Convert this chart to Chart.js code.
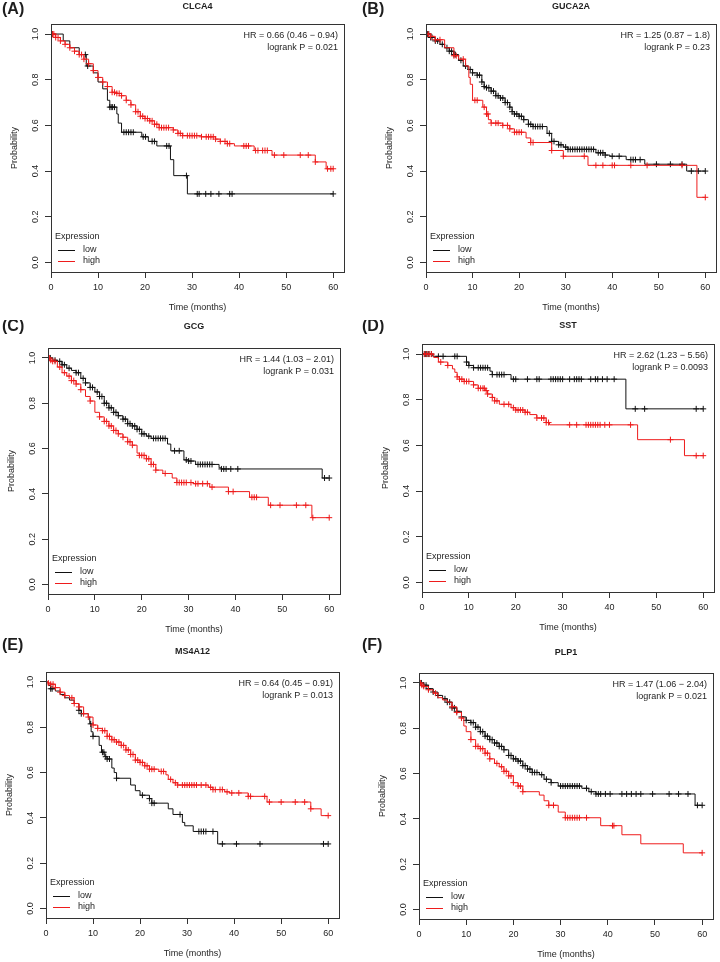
<!DOCTYPE html>
<html>
<head>
<meta charset="utf-8">
<script src="https://cdn.jsdelivr.net/npm/chart.js@4.4.1/dist/chart.umd.min.js"></script>
<style>
  html, body { margin: 0; padding: 0; background: #fff; overflow: hidden; }
  body { width: 720px; height: 962px; position: relative; }
  canvas { position: absolute; }
</style>
</head>
<body>
<script>
// ---- labels / ticks ----
const panelTags = ['(A)', '(B)', '(C)', '(D)', '(E)', '(F)'];
const geneNames = ['CLCA4', 'GUCA2A', 'GCG', 'SST', 'MS4A12', 'PLP1'];
const hrLabels = [
    'HR = 0.66 (0.46 \u2212 0.94)', 'HR = 1.25 (0.87 \u2212 1.8)', 'HR = 1.44 (1.03 \u2212 2.01)',
    'HR = 2.62 (1.23 \u2212 5.56)', 'HR = 0.64 (0.45 \u2212 0.91)', 'HR = 1.47 (1.06 \u2212 2.04)'
];
const pLabels = [
    'logrank P = 0.021', 'logrank P = 0.23', 'logrank P = 0.031',
    'logrank P = 0.0093', 'logrank P = 0.013', 'logrank P = 0.021'
];
const groupNames = ['low', 'high'];
const xTicks = [0, 10, 20, 30, 40, 50, 60];
const yTicks = [0, 0.2, 0.4, 0.6, 0.8, 1.0];

// ---- CLCA4 ----
const clca4LowTime = [0, 2.6, 4, 6, 7.5, 9, 10, 11, 12, 12.5, 14, 14.3, 15, 19.3, 20.7, 22.5, 25.4, 26.1, 29];
const clca4LowSurv = [1, 0.97, 0.94, 0.91, 0.86, 0.83, 0.79, 0.76, 0.71, 0.68, 0.65, 0.61, 0.57, 0.55, 0.53, 0.51, 0.45, 0.38, 0.30];
const clca4LowCens = [0.3, 7.3, 7.8, 12.5, 12.8, 13.1, 13.5, 15.5, 16, 16.5, 17, 17.5, 19.6, 20.1, 21.5, 22, 24.6, 25.1, 28.8, 31.1, 31.5, 32.9, 34, 35.7, 38, 38.5, 60];
const clca4HighTime = [0, 1, 2, 3, 4, 5, 6, 7, 8, 9, 10, 11, 12, 13, 14, 15, 16, 17, 18, 19, 20, 21, 22, 23, 26, 27, 28, 32, 35, 36, 37.5, 39, 43.2, 47, 56.2, 58.5];
const clca4HighSurv = [1, 0.985, 0.97, 0.955, 0.94, 0.925, 0.91, 0.89, 0.87, 0.84, 0.81, 0.79, 0.77, 0.745, 0.74, 0.73, 0.71, 0.69, 0.66, 0.64, 0.63, 0.62, 0.605, 0.59, 0.58, 0.565, 0.555, 0.55, 0.54, 0.53, 0.52, 0.51, 0.49, 0.47, 0.44, 0.41];
const clca4HighCens = [0.3, 0.6, 1, 1.5, 2, 3, 4, 5, 6, 6.5, 7, 8, 9, 10, 11, 12, 13, 13.5, 14, 14.5, 15, 16, 17, 18, 18.5, 19, 19.5, 20, 20.5, 21, 21.5, 22, 22.5, 23, 23.5, 24, 24.5, 25, 26, 27, 27.5, 28, 29, 29.5, 30, 30.5, 31, 32, 33, 33.5, 34, 34.5, 35, 36, 37, 37.5, 38, 41, 41.5, 42, 43.5, 44, 45, 45.5, 46, 47.5, 49.5, 53, 54.7, 56.2, 58.8, 59.5, 60];

// ---- GUCA2A ----
const guca2aLowTime = [0, 1, 2, 3, 4, 5, 6, 7, 8, 9, 10, 11, 12, 12.5, 13, 14, 15, 16, 17, 18, 18.5, 19, 20, 21, 22, 23, 26, 27, 28.5, 29.5, 30.5, 36.5, 38.5, 39.5, 43, 47, 56];
const guca2aLowSurv = [1, 0.985, 0.97, 0.955, 0.94, 0.925, 0.91, 0.885, 0.86, 0.845, 0.83, 0.82, 0.79, 0.77, 0.765, 0.75, 0.73, 0.72, 0.70, 0.68, 0.66, 0.65, 0.64, 0.625, 0.605, 0.595, 0.565, 0.53, 0.515, 0.505, 0.495, 0.48, 0.47, 0.465, 0.45, 0.43, 0.40];
const guca2aLowCens = [0.3, 0.6, 1, 1.3, 2, 2.5, 3.5, 4.5, 5, 5.5, 6, 6.3, 7.5, 8.5, 9.5, 10, 11, 11.5, 12, 12.5, 13, 13.5, 14, 14.5, 15, 15.5, 16, 16.5, 17, 17.5, 18, 18.5, 19, 19.5, 20, 20.5, 21, 22, 22.5, 23, 23.5, 24, 24.5, 25, 26.5, 27, 27.5, 28.5, 29, 30, 30.5, 31, 31.5, 32, 32.5, 33, 33.5, 34, 34.5, 35, 35.5, 36, 37, 37.5, 38, 38.5, 40, 41.5, 44, 44.5, 45, 46, 49.5, 52.5, 55, 57, 58.5, 60];
const guca2aHighTime = [0, 1, 2, 4, 6, 7, 8.5, 9.2, 9.5, 10, 12.2, 13, 13.4, 14, 16.5, 18, 19, 21.5, 22.5, 27, 29.5, 34.8, 58.2];
const guca2aHighSurv = [1, 0.99, 0.975, 0.94, 0.905, 0.89, 0.86, 0.81, 0.78, 0.71, 0.68, 0.65, 0.625, 0.61, 0.60, 0.585, 0.57, 0.545, 0.525, 0.49, 0.465, 0.425, 0.285];
const guca2aHighCens = [0.5, 1, 2, 3, 6, 6.5, 8, 10.5, 11, 12.5, 13, 13.3, 14, 15, 15.5, 16.5, 17.5, 18, 19, 19.5, 20, 20.5, 22.5, 23, 27, 29.5, 34, 36.5, 38, 40, 40.5, 44, 47.5, 55, 60];

// ---- GCG ----
const gcgLowTime = [0, 1, 2, 3, 4, 5, 6, 7, 8, 9, 10, 11, 12, 13, 14, 15, 16, 17, 18, 19, 20, 21, 22, 25.5, 26.2, 29, 30, 31.5, 36.5, 37, 58.5];
const gcgLowSurv = [1, 0.99, 0.985, 0.97, 0.955, 0.945, 0.935, 0.91, 0.89, 0.87, 0.85, 0.83, 0.80, 0.78, 0.76, 0.745, 0.73, 0.71, 0.70, 0.685, 0.665, 0.655, 0.645, 0.62, 0.59, 0.55, 0.545, 0.53, 0.515, 0.51, 0.47];
const gcgLowCens = [0.5, 1.5, 2.5, 3, 3.5, 4.5, 6, 6.5, 7.5, 8, 9, 9.5, 10.5, 11, 11.5, 12, 12.5, 13, 13.5, 14, 14.5, 15, 16, 16.5, 17, 17.5, 18, 18.5, 19, 19.5, 20, 20.5, 21.5, 22.5, 23, 23.5, 24, 24.5, 25, 27, 28, 29.5, 30, 30.5, 32, 32.5, 33, 33.5, 34, 34.5, 35, 37, 37.5, 38, 39, 40.5, 59, 60];
const gcgHighTime = [0, 0.5, 1, 2, 3, 4, 5, 6, 7, 8, 9, 10, 11, 12, 13, 14, 15, 16, 17, 18, 19, 19.5, 21, 22, 23, 24.5, 26.5, 27.5, 31, 34.5, 38.5, 43, 47, 56.3];
const gcgHighSurv = [1, 0.99, 0.985, 0.96, 0.935, 0.92, 0.90, 0.885, 0.86, 0.83, 0.81, 0.76, 0.74, 0.72, 0.70, 0.68, 0.665, 0.65, 0.63, 0.615, 0.58, 0.57, 0.555, 0.53, 0.505, 0.49, 0.47, 0.45, 0.445, 0.43, 0.41, 0.385, 0.35, 0.295];
const gcgHighCens = [0.3, 0.6, 1, 1.5, 2.5, 3.5, 4.5, 5, 5.5, 6, 7, 9, 11, 12, 12.5, 13, 13.5, 14, 14.5, 15, 16, 17, 17.5, 18, 19.5, 20, 20.5, 21, 21.5, 22, 22.5, 23, 25, 27.5, 28, 28.5, 29, 29.5, 30.5, 31.5, 32, 33, 34, 35, 38.5, 39.5, 43.5, 44, 44.5, 47.5, 49.5, 53, 55, 56.5, 60];

// ---- SST ----
const sstLowTime = [0, 2.3, 9.5, 10, 11, 14.5, 15, 19, 43.5];
const sstLowSurv = [1, 0.99, 0.965, 0.95, 0.94, 0.925, 0.91, 0.89, 0.76];
const sstLowCens = [0.5, 0.8, 1, 1.3, 1.5, 2, 3.5, 4.5, 7, 7.5, 9.5, 10, 11, 12, 12.5, 13, 13.5, 14, 15, 16, 16.5, 17, 17.5, 19.5, 20, 22.5, 24.5, 25, 27.5, 28, 28.5, 29, 29.5, 30, 31.5, 32.5, 33, 33.5, 34, 36, 37, 37.5, 38.5, 39.5, 41, 45.5, 47.5, 58.5, 60];
const sstHighTime = [0, 2.5, 3.5, 5.5, 6.5, 7, 7.5, 8, 9, 11, 12, 13.5, 14, 15, 15.5, 16.5, 19, 20, 22, 23, 24.5, 26.5, 27.2, 46, 56];
const sstHighSurv = [1, 0.985, 0.965, 0.95, 0.935, 0.92, 0.90, 0.89, 0.88, 0.865, 0.85, 0.84, 0.825, 0.81, 0.795, 0.78, 0.765, 0.755, 0.745, 0.735, 0.72, 0.70, 0.69, 0.625, 0.555];
const sstHighCens = [0.5, 1, 1.5, 2, 4, 5.5, 7.5, 8, 8.5, 9, 9.5, 10, 11, 12, 12.5, 13, 13.3, 13.7, 14, 15, 15.5, 16, 17.5, 18.5, 19.5, 20, 20.5, 21, 21.5, 22, 22.5, 24.5, 25.5, 26, 26.5, 27, 31.5, 33, 35, 35.5, 36, 36.5, 37, 37.5, 38, 39, 40, 44.5, 53, 58.5, 60];

// ---- MS4A12 ----
const ms4a12LowTime = [0, 0.5, 1, 2, 3, 4, 5, 6, 7, 7.5, 9, 9.3, 9.6, 10, 11.3, 11.8, 12.5, 13, 14, 14.5, 15, 18, 19, 20, 22, 22.5, 26, 27, 29, 29.5, 31.3, 36.5];
const ms4a12LowSurv = [1, 0.985, 0.97, 0.96, 0.945, 0.93, 0.92, 0.905, 0.875, 0.86, 0.845, 0.815, 0.78, 0.76, 0.72, 0.69, 0.67, 0.66, 0.62, 0.60, 0.575, 0.545, 0.52, 0.50, 0.485, 0.465, 0.44, 0.415, 0.38, 0.365, 0.34, 0.285];
const ms4a12LowCens = [1, 1.3, 7, 7.5, 9.5, 10, 12, 12.3, 12.7, 13, 13.5, 15, 20.5, 22, 22.5, 23, 28.5, 32.5, 33, 33.5, 34, 35.5, 37.5, 40.5, 45.5, 59, 60];
const ms4a12HighTime = [0, 0.5, 1, 2, 3, 4, 5, 6, 7, 8, 9, 10, 11, 12, 13, 14, 15, 16, 17, 18, 19, 20, 21, 22, 24, 25.5, 26, 27, 28, 34.5, 35.5, 38, 39, 43, 47, 56.3, 58.5];
const ms4a12HighSurv = [1, 0.995, 0.99, 0.975, 0.955, 0.94, 0.93, 0.905, 0.89, 0.86, 0.845, 0.81, 0.795, 0.785, 0.76, 0.745, 0.735, 0.72, 0.70, 0.68, 0.655, 0.645, 0.63, 0.615, 0.605, 0.59, 0.57, 0.555, 0.545, 0.535, 0.525, 0.515, 0.51, 0.495, 0.47, 0.44, 0.41];
const ms4a12HighCens = [0.5, 1, 1.5, 2, 3, 4, 5.5, 6, 7, 8, 9, 10, 11, 12, 12.5, 13, 13.5, 14, 14.5, 15, 15.5, 16, 16.5, 17, 17.5, 18, 18.5, 19, 19.5, 20, 20.5, 21, 21.5, 22, 22.5, 23, 24.5, 25, 26.5, 27.5, 28, 29, 29.5, 30, 30.5, 31, 31.5, 32, 33, 34, 35, 35.5, 36, 37, 37.5, 38.5, 39.5, 41, 43, 43.5, 46.5, 47.5, 50, 53, 55, 56.3, 60];

// ---- PLP1 ----
const plp1LowTime = [0, 1, 2, 3, 4, 5, 6, 7, 8, 9, 10, 11, 12, 13, 14, 15, 16, 17, 18, 19, 20, 21, 22, 23, 24, 25.5, 26.5, 28, 29.5, 34.5, 36, 37.5, 58.5];
const plp1LowSurv = [1, 0.99, 0.975, 0.96, 0.945, 0.93, 0.915, 0.89, 0.875, 0.85, 0.835, 0.825, 0.805, 0.785, 0.765, 0.75, 0.735, 0.72, 0.705, 0.68, 0.665, 0.655, 0.635, 0.62, 0.605, 0.595, 0.575, 0.56, 0.545, 0.535, 0.52, 0.51, 0.46];
const plp1LowCens = [0.5, 1, 1.5, 2, 3, 4, 5.5, 6, 6.5, 7, 7.5, 8, 9, 10, 11, 11.5, 12, 12.5, 13, 13.5, 14, 14.5, 15, 15.5, 16, 16.5, 17, 17.5, 18, 19, 19.5, 20, 20.5, 21, 21.5, 22, 22.5, 23, 23.5, 24, 24.5, 25, 26, 27, 28, 30, 30.5, 31, 31.5, 32, 32.5, 33, 33.5, 34, 35.5, 36.5, 37.5, 38, 38.5, 39.5, 40.5, 43, 44, 45, 46, 47, 49.5, 53, 55, 57, 59, 60];
const plp1HighTime = [0, 0.5, 1, 2, 3, 4, 5, 6, 7, 8, 9, 9.5, 10, 11, 12, 13, 14, 15, 16, 17, 18, 19, 20, 21, 22, 25.5, 26.5, 27.5, 29.5, 31, 38.5, 43, 47, 56];
const plp1HighSurv = [1, 0.99, 0.985, 0.97, 0.955, 0.935, 0.925, 0.915, 0.895, 0.87, 0.845, 0.81, 0.785, 0.75, 0.72, 0.71, 0.69, 0.665, 0.645, 0.63, 0.61, 0.59, 0.56, 0.545, 0.52, 0.505, 0.48, 0.46, 0.43, 0.405, 0.37, 0.33, 0.29, 0.25];
const plp1HighCens = [0.3, 0.6, 1, 2, 3.5, 7, 8, 9, 11, 12, 12.5, 13, 13.5, 14, 14.5, 15, 16.5, 17.5, 18, 18.5, 19, 19.5, 20, 21, 21.5, 22, 27.5, 28.5, 31, 31.5, 32, 32.5, 33, 33.5, 34, 35.5, 41, 41.3, 60];

const panelData = [
    { low: [clca4LowTime, clca4LowSurv, clca4LowCens], high: [clca4HighTime, clca4HighSurv, clca4HighCens] },
    { low: [guca2aLowTime, guca2aLowSurv, guca2aLowCens], high: [guca2aHighTime, guca2aHighSurv, guca2aHighCens] },
    { low: [gcgLowTime, gcgLowSurv, gcgLowCens], high: [gcgHighTime, gcgHighSurv, gcgHighCens] },
    { low: [sstLowTime, sstLowSurv, sstLowCens], high: [sstHighTime, sstHighSurv, sstHighCens] },
    { low: [ms4a12LowTime, ms4a12LowSurv, ms4a12LowCens], high: [ms4a12HighTime, ms4a12HighSurv, ms4a12HighCens] },
    { low: [plp1LowTime, plp1LowSurv, plp1LowCens], high: [plp1HighTime, plp1HighSurv, plp1HighCens] }
];

// ---- layout (page pixels) ----
// origin/size: canvas placement; area: plot box [left, top, right, bottom]
const panelLayout = [
    { origin: [0, 0], size: [360, 320], area: [51, 24, 344, 272], tag: [2, 10], titleY: 7 },
    { origin: [360, 0], size: [360, 320], area: [426, 24, 719, 272], tag: [362, 10], titleY: 7 },
    { origin: [0, 320], size: [360, 318], area: [48, 348, 340, 594], tag: [2, 327], titleY: 327 },
    { origin: [360, 320], size: [360, 318], area: [422, 344, 714, 592], tag: [362, 327], titleY: 326 },
    { origin: [0, 638], size: [360, 325], area: [46, 672, 339, 918], tag: [2, 646], titleY: 652 },
    { origin: [360, 638], size: [360, 325], area: [419, 673, 713, 919], tag: [362, 646], titleY: 653 }
];

const Y_AXIS_W = 44;
const X_AXIS_H = 44;
const FONT = '"Liberation Sans", Arial, Helvetica, sans-serif';
const TEXT_COLOR = '#1e1e1e';
const AXIS_COLOR = '#333';
const groupColors = { low: '#111111', high: '#ee1c1c' };

// survival value at time t (step function)
function stepAt(times, surv, t) {
    let s = surv[0];
    for (let i = 0; i < times.length; i++) {
        if (times[i] <= t) s = surv[i];
    }
    return s;
}

function curvePoints(times, surv, cens) {
    const pts = times.map((t, i) => ({ x: t, y: surv[i] }));
    const end = Math.max(times[times.length - 1], cens[cens.length - 1]);
    pts.push({ x: end, y: surv[surv.length - 1] });
    return pts;
}

function censorPoints(times, surv, cens) {
    return cens.map(c => ({ x: c, y: stepAt(times, surv, c) }));
}

// box, vertical y labels, HR text, legend, titles (R style)
const kmDecor = {
    id: 'kmDecor',
    afterDraw(chart, args, opts) {
        const ctx = chart.ctx;
        const a = chart.chartArea;
        const yScale = chart.scales.y;
        ctx.save();

        ctx.strokeStyle = AXIS_COLOR;
        ctx.lineWidth = 1;
        ctx.strokeRect(Math.round(a.left) + 0.5, Math.round(a.top) + 0.5,
            Math.round(a.right - a.left), Math.round(a.bottom - a.top));

        ctx.fillStyle = TEXT_COLOR;
        ctx.font = `9px ${FONT}`;
        ctx.textAlign = 'center';
        ctx.textBaseline = 'middle';
        yTicks.forEach(v => {
            ctx.save();
            ctx.translate(a.left - 15, yScale.getPixelForValue(v));
            ctx.rotate(-Math.PI / 2);
            ctx.fillText(v.toFixed(1), 0, 0);
            ctx.restore();
        });

        ctx.textAlign = 'right';
        ctx.fillText(opts.hr, a.right - 6, a.top + 12);
        ctx.fillText(opts.p, a.right - 6, a.top + 24);

        // legend, bottom left inside the box
        ctx.textAlign = 'left';
        ctx.fillText('Expression', a.left + 4, a.bottom - 35);
        groupNames.forEach((name, k) => {
            const ly = Math.round(a.bottom - 22 + k * 11);
            ctx.strokeStyle = groupColors[name];
            ctx.lineWidth = 1;
            ctx.beginPath();
            ctx.moveTo(a.left + 7, ly + 0.5);
            ctx.lineTo(a.left + 24, ly + 0.5);
            ctx.stroke();
            ctx.fillText(name, a.left + 32, ly);
        });

        ctx.font = `bold 9px ${FONT}`;
        ctx.textAlign = 'center';
        ctx.fillText(opts.gene, (a.left + a.right) / 2, opts.titleY);

        ctx.font = `bold 16px ${FONT}`;
        ctx.textAlign = 'left';
        ctx.fillText(opts.tag, opts.tagX, opts.tagY);
        ctx.restore();
    }
};

function buildPanel(i) {
    const lay = panelLayout[i];
    const [ox, oy] = lay.origin;
    const [w, h] = lay.size;
    const canvas = document.createElement('canvas');
    canvas.width = w;
    canvas.height = h;
    canvas.style.left = ox + 'px';
    canvas.style.top = oy + 'px';
    document.body.appendChild(canvas);

    // plot box relative to this canvas
    const l = lay.area[0] - ox, t = lay.area[1] - oy;
    const r = lay.area[2] - ox, b = lay.area[3] - oy;

    const datasets = [];
    // high first so it is painted over low
    ['high', 'low'].forEach(name => {
        const [times, surv, cens] = panelData[i][name];
        datasets.push({
            label: name,
            data: curvePoints(times, surv, cens),
            borderColor: groupColors[name],
            borderWidth: 1,
            stepped: 'before',
            pointRadius: 0,
            pointHoverRadius: 0,
            fill: false
        });
        datasets.push({
            data: censorPoints(times, surv, cens),
            showLine: false,
            pointStyle: 'cross',
            pointRadius: 3,
            pointHoverRadius: 3,
            borderColor: groupColors[name],
            borderWidth: 1
        });
    });

    const axisFont = { family: FONT, size: 9 };

    new Chart(canvas, {
        type: 'line',
        data: { datasets },
        options: {
            responsive: false,
            animation: false,
            events: [],
            layout: {
                padding: { left: l - Y_AXIS_W, top: t, right: w - r, bottom: h - b - X_AXIS_H }
            },
            plugins: {
                legend: { display: false },
                tooltip: { enabled: false },
                kmDecor: {
                    hr: hrLabels[i], p: pLabels[i], gene: geneNames[i], tag: panelTags[i],
                    tagX: lay.tag[0] - ox, tagY: lay.tag[1] - oy, titleY: lay.titleY - oy
                }
            },
            scales: {
                x: {
                    type: 'linear',
                    min: 0,
                    max: 62.3,
                    afterBuildTicks: s => { s.ticks = xTicks.map(v => ({ value: v })); },
                    afterFit: s => { s.height = X_AXIS_H; },
                    border: { display: false },
                    grid: { drawOnChartArea: false, tickLength: 6, color: AXIS_COLOR },
                    ticks: { font: axisFont, color: TEXT_COLOR, padding: 4, maxRotation: 0 },
                    title: { display: true, text: 'Time (months)', font: axisFont, color: TEXT_COLOR, padding: { top: 0, bottom: 2.6 } }
                },
                y: {
                    type: 'linear',
                    min: -0.042,
                    max: 1.044,
                    afterBuildTicks: s => { s.ticks = yTicks.map(v => ({ value: v })); },
                    afterFit: s => { s.width = Y_AXIS_W; },
                    border: { display: false },
                    grid: { drawOnChartArea: false, tickLength: 6, color: AXIS_COLOR },
                    ticks: { display: false },
                    title: { display: true, text: 'Probability', font: axisFont, color: TEXT_COLOR, padding: { top: 2, bottom: 0 } }
                }
            }
        },
        plugins: [kmDecor]
    });
}

panelLayout.forEach((_, i) => buildPanel(i));
</script>
</body>
</html>
